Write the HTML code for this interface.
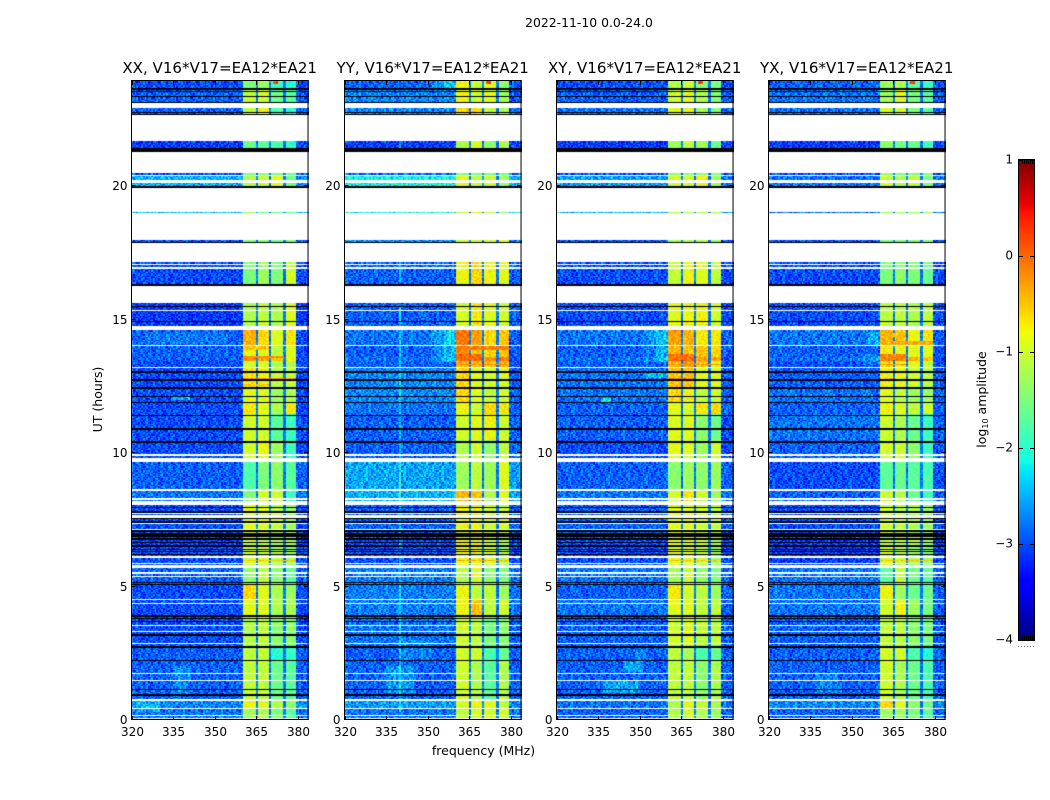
<!DOCTYPE html>
<html lang="en">
<head>
<meta charset="utf-8">
<title>2022-11-10 0.0-24.0</title>
<style>
html,body{margin:0;padding:0;background:#fff;}
#fig{position:relative;width:1050px;height:800px;overflow:hidden;background:#fff;}
canvas{position:absolute;display:block;}
svg{position:absolute;left:0;top:0;}
text{font-family:"DejaVu Sans","Liberation Sans",sans-serif;fill:#000;}
</style>
</head>
<body>
<div id="fig">
  <canvas id="c0"></canvas>
  <canvas id="c1"></canvas>
  <canvas id="c2"></canvas>
  <canvas id="c3"></canvas>
  <canvas id="cbar"></canvas>
  <svg id="overlay" width="1050" height="800">
    <text x="589" y="27" text-anchor="middle" font-size="12.4">2022-11-10 0.0-24.0</text>
    <text x="219.7" y="73" text-anchor="middle" font-size="15.05">XX, V16*V17=EA12*EA21</text>
    <text x="432.7" y="73" text-anchor="middle" font-size="15.05">YY, V16*V17=EA12*EA21</text>
    <text x="644.7" y="73" text-anchor="middle" font-size="15.05">XY, V16*V17=EA12*EA21</text>
    <text x="856.7" y="73" text-anchor="middle" font-size="15.05">YX, V16*V17=EA12*EA21</text>
    <text x="483.5" y="755" text-anchor="middle" font-size="12.5">frequency (MHz)</text>
    <text transform="translate(102,399.5) rotate(-90)" text-anchor="middle" font-size="12.5">UT (hours)</text>
    <text transform="translate(986,399.5) rotate(-90)" text-anchor="middle" font-size="12.5">log<tspan font-size="8" dy="2">10</tspan><tspan dy="-2"> amplitude</tspan></text>
  </svg>
</div>
<script>
/* ---------- axis settings ---------- */
const xTicks = [320, 335, 350, 365, 380];
const yTicks = [0, 5, 10, 15, 20];
const colorTicks = [1, 0, -1, -2, -3, -4];
const colorTickLabels = ["1", "0", "\u22121", "\u22122", "\u22123", "\u22124"];
const panelNames = ["xx", "yy", "xy", "yx"];
const panelLefts = [131.5, 344.5, 556.5, 768.5];

/* ---------- time sections (hours) and frequency columns (MHz) ---------- */
const sectionEdges = [0,.43,.77,2.23,2.80,3.92,4.52,5.05,5.80,6.55,7.00,8.05,8.65,9.70,10.49,11.43,11.91,12.44,13.19,13.45,13.60,14.05,14.62,15.63,17.88,18.5,19.5,20.43,20.55,21.71,23.13,23.69,24];
const columnEdges = [320, 360.5, 365.3, 370.4, 375.5, 379.7, 384];
const subbandGaps = [365.1, 370.2, 375.3];

/* log10 amplitude per section: [below 360.5, sub-band 1..4, above 380] */
const levelsXX = [
[-2.9,-1.3,-1.2,-1.5,-1.7,-2.9],[-2.8,-0.8,-0.9,-1.2,-1.4,-2.7],[-3.0,-1.1,-1.1,-1.6,-1.7,-3.0],[-3.0,-1.1,-1.1,-2.0,-1.9,-3.0],
[-3.1,-1.2,-1.1,-1.4,-1.4,-3.1],[-3.1,-0.9,-0.9,-1.2,-1.2,-3.1],[-3.1,-0.6,-0.9,-1.2,-1.3,-3.1],[-3.0,-1.4,-1.1,-1.4,-1.7,-3.0],
[-3.1,-1.0,-1.0,-1.2,-1.3,-3.1],[-3.2,-1.1,-1.1,-1.2,-1.2,-3.2],[-3.1,-0.9,-0.9,-1.1,-1.3,-3.1],[-2.9,-1.5,-1.0,-1.0,-1.9,-2.9],
[-3.0,-1.8,-1.5,-1.4,-1.7,-3.0],[-3.1,-1.0,-0.8,-1.3,-1.9,-3.1],[-3.1,-1.0,-1.0,-1.7,-1.9,-3.1],[-3.1,-0.7,-0.9,-1.2,-0.7,-3.1],
[-3.1,-0.9,-0.9,-1.3,-1.2,-3.1],[-3.1,-0.7,-0.8,-1.1,-1.1,-3.1],[-3.1,-1.0,-1.0,-1.2,-1.2,-3.1],[-3.0,-0.2,-0.3,-0.5,-0.8,-3.1],
[-3.0,-0.8,-0.9,-1.1,-0.9,-3.1],[-3.0,-0.4,-0.6,-0.9,-0.7,-3.1],[-3.2,-1.2,-1.1,-1.2,-0.9,-3.2],[-3.1,-1.5,-1.3,-1.5,-1.0,-3.1],
[-3.1,-1.5,-1.5,-1.6,-1.5,-3.1],[-2.5,-1.2,-1.7,-1.6,-1.7,-2.5],[-2.6,-1.2,-1.1,-0.9,-1.6,-2.8],[-3.1,-1.5,-1.5,-1.5,-1.5,-3.1],
[-3.2,-1.6,-1.7,-1.8,-2.0,-3.1],[-3.0,-1.1,-0.8,-1.8,-2.0,-3.0],[-3.0,-1.1,-1.0,-1.6,-1.7,-3.0],[-3.1,-1.5,-1.3,-1.9,-2.0,-3.1]];
const levelsYY = [
[-2.9,-1.1,-1.0,-1.0,-1.0,-2.9],[-2.7,-1.0,-0.8,-0.9,-1.1,-2.8],[-3.0,-1.0,-1.2,-1.7,-1.2,-3.0],[-3.0,-1.0,-1.0,-1.8,-1.6,-3.0],
[-2.9,-1.0,-1.1,-1.5,-1.4,-3.0],[-2.85,-0.8,-0.5,-1.1,-1.0,-2.9],[-2.85,-0.8,-1.1,-1.1,-1.3,-2.9],[-2.85,-1.2,-0.9,-1.4,-1.5,-2.9],
[-3.1,-0.8,-0.8,-1.0,-1.2,-3.1],[-3.1,-0.8,-0.8,-1.0,-1.2,-3.1],[-3.0,-0.8,-0.8,-1.0,-1.0,-3.0],[-2.6,-0.4,-0.5,-1.2,-0.9,-2.7],
[-2.65,-1.3,-1.1,-1.3,-0.9,-2.7],[-3.0,-1.2,-1.0,-1.4,-1.1,-2.9],[-3.0,-1.0,-0.9,-0.8,-1.0,-3.0],[-2.9,-0.8,-1.0,-0.6,-0.7,-3.0],
[-2.8,-0.6,-0.9,-1.1,-1.0,-3.0],[-2.8,-0.6,-0.9,-1.0,-0.9,-3.0],[-3.0,-0.4,-0.5,-0.5,-0.4,-3.1],[-2.9,0,0,-0.2,-0.1,-3.1],
[-3.0,-0.2,-0.5,-0.6,-0.5,-3.0],[-2.9,-0.1,-0.3,-0.6,-0.5,-3.0],[-3.0,-1.0,-0.7,-0.9,-1.0,-3.0],[-3.0,-0.8,-0.6,-0.8,-0.9,-3.0],
[-2.8,-1.0,-1.0,-1.0,-1.0,-2.9],[-2.2,-1.1,-0.8,-1.1,-1.4,-2.3],[-2.2,-0.9,-1.1,-1.0,-1.3,-2.6],[-3.0,-1.5,-1.5,-1.5,-1.5,-3.0],
[-3.2,-1.2,-0.9,-1.4,-1.2,-3.1],[-2.8,-0.6,-0.6,-1.1,-1.3,-2.9],[-2.8,-0.8,-1.0,-0.9,-1.3,-3.0],[-3.0,-0.8,-1.1,-0.9,-1.4,-3.0]];
const levelsXY = [
[-3.0,-1.2,-1.0,-1.2,-1.3,-3.0],[-2.9,-1.2,-0.9,-1.1,-1.2,-2.9],[-3.0,-1.1,-1.1,-1.4,-1.2,-3.0],[-3.0,-1.1,-1.2,-1.8,-1.6,-3.0],
[-3.0,-1.0,-0.9,-1.1,-1.1,-3.0],[-2.9,-0.9,-0.9,-1.1,-1.1,-3.0],[-3.0,-0.7,-1.0,-1.1,-1.3,-3.0],[-2.9,-1.3,-1.0,-1.4,-1.5,-3.0],
[-3.1,-0.9,-0.9,-1.1,-1.3,-3.1],[-3.1,-0.9,-0.9,-1.0,-1.2,-3.1],[-3.0,-0.9,-0.9,-1.0,-1.1,-3.0],[-2.9,-1.0,-0.7,-1.0,-1.3,-2.9],
[-3.0,-1.4,-1.3,-1.4,-1.3,-3.0],[-3.1,-0.9,-0.9,-1.3,-1.0,-3.1],[-3.0,-0.9,-0.9,-1.4,-1.6,-3.1],[-3.0,-0.9,-1.0,-0.7,-0.6,-3.0],
[-2.9,-0.6,-0.8,-1.1,-1.0,-3.0],[-2.9,-0.5,-0.5,-0.9,-0.9,-3.0],[-3.0,-0.4,-0.3,-0.5,-0.8,-3.1],[-2.9,0,0,-0.3,-0.3,-3.1],
[-3.0,-0.4,-0.5,-0.5,-0.6,-3.0],[-2.9,-0.2,-0.4,-0.7,-0.7,-3.0],[-3.1,-0.9,-0.8,-0.8,-1.0,-3.1],[-3.1,-1.1,-0.8,-0.9,-1.1,-3.1],
[-3.1,-1.3,-1.2,-1.2,-1.3,-3.1],[-2.6,-1.2,-1.2,-1.2,-1.2,-2.6],[-2.7,-1.0,-1.0,-0.8,-1.3,-2.9],[-3.1,-1.4,-1.4,-1.4,-1.4,-3.1],
[-3.2,-1.3,-1.1,-1.3,-1.6,-3.1],[-2.9,-0.9,-0.9,-1.3,-1.5,-3.0],[-3.0,-1.0,-0.9,-1.2,-1.5,-3.0],[-3.1,-1.2,-1.0,-1.4,-1.5,-3.1]];
const levelsYX = [
[-3.0,-1.3,-1.3,-1.5,-1.7,-3.0],[-2.8,-0.6,-0.9,-1.4,-1.6,-2.8],[-3.0,-1.0,-1.2,-1.6,-1.8,-3.0],[-3.0,-1.0,-1.0,-1.8,-2.0,-3.0],
[-3.0,-1.1,-1.1,-1.4,-1.5,-3.0],[-2.9,-1.0,-0.8,-1.3,-1.5,-3.0],[-2.9,-0.8,-1.3,-1.6,-1.6,-3.0],[-2.9,-1.7,-1.1,-1.6,-1.7,-3.0],
[-3.2,-1.0,-1.1,-1.3,-1.4,-3.1],[-3.2,-1.1,-1.1,-1.2,-1.3,-3.2],[-3.1,-1.0,-1.1,-1.2,-1.3,-3.1],[-3.0,-1.0,-1.1,-1.6,-1.9,-3.0],
[-3.1,-1.7,-1.6,-1.7,-1.8,-3.1],[-3.0,-1.0,-1.0,-1.4,-1.9,-3.0],[-2.9,-1.0,-1.2,-1.6,-1.9,-3.0],[-3.0,-0.8,-0.9,-1.1,-1.0,-3.0],
[-2.9,-0.9,-1.1,-1.3,-1.3,-3.0],[-3.0,-0.8,-0.8,-1.0,-1.1,-3.0],[-3.1,-0.6,-0.8,-0.9,-1.1,-3.1],[-2.9,-0.2,-0.2,-0.4,-0.5,-3.1],
[-3.0,-0.7,-0.8,-0.9,-0.9,-3.1],[-2.9,-0.4,-0.5,-0.8,-0.7,-3.0],[-3.1,-1.1,-1.1,-1.2,-1.1,-3.1],[-3.1,-1.5,-1.4,-1.5,-1.6,-3.1],
[-3.1,-1.5,-1.5,-1.5,-1.5,-3.1],[-3.0,-1.3,-1.3,-1.3,-1.3,-3.0],[-2.9,-1.0,-1.2,-1.1,-1.5,-2.9],[-3.1,-1.5,-1.5,-1.5,-1.5,-3.1],
[-3.2,-1.4,-1.5,-1.6,-1.9,-3.1],[-2.9,-1.0,-1.0,-1.5,-1.7,-3.0],[-2.9,-1.3,-0.9,-1.5,-1.7,-3.0],[-3.0,-1.3,-1.2,-1.7,-1.9,-3.0]];
const panelLevels = [levelsXX, levelsYY, levelsXY, levelsYX];

/* strong horizontal features: [t0, t1, f0, f1, log amplitude] */
const hotXX = [[12.72,12.8,360.5,379.7,-0.2],[12.5,12.62,360.5,370,-0.5],[23.87,23.94,371,373,0.2],[5.95,6.02,360.5,379.7,-0.5],[14.2,14.4,360.5,365,-0.4],[13.86,14.0,360.5,370,-0.5],[13.55,13.65,360.5,375,-0.2]];
const hotYY = [[14.28,14.54,360.5,365,-0.05],[14.28,14.54,365.5,370,-0.3],[13.86,14.02,360.5,379.7,-0.1],[13.49,13.68,360.5,370,0.0],[13.30,13.36,360.5,379.7,-0.2],[13.0,13.04,360.5,379.7,0.1],[0.45,0.47,320,384,-1.3],[23.87,23.94,371,373,0.2],[5.95,6.02,360.5,379.7,-0.4]];
const hotXY = [[14.05,14.54,360.5,365,-0.3],[13.49,13.68,360.5,370,-0.05],[13.30,13.36,360.5,379.7,-0.25],[13.0,13.06,360.5,370,-0.2],[12.72,12.8,360.5,370,-0.1],[23.87,23.94,371,373,0.2],[5.95,6.02,360.5,379.7,-0.5]];
const hotYX = [[14.0,14.2,360.5,379.7,-0.35],[14.35,14.5,360.5,370,-0.45],[13.49,13.68,360.5,370,-0.15],[13.3,13.36,360.5,370,-0.3],[13.0,13.06,360.5,375,-0.25],[12.72,12.78,360.5,365,-0.4],[23.87,23.94,371,373,0.2],[5.95,6.02,360.5,379.7,-0.5]];
const panelHot = [hotXX, hotYY, hotXY, hotYX];

/* diffuse brightenings: [t0, t1, f0, f1, log offset] */
const patchesXX = [[0.9,2.0,335,341,0.25],[0.3,0.7,322,330,0.25],[14.1,14.55,325,355,0.12],[12.0,12.1,335,341,0.5]];
const patchesYY = [[1.0,2.0,335,345,0.3],[13.4,14.6,356,360.5,0.45],[13.4,14.6,351,356,0.2],[23.69,24,356,360.5,0.55],[23.69,24,351,356,0.25],[0.3,15.6,339.7,340.3,0.5],[16.4,17.1,339.7,340.3,0.5],[21.45,21.7,339.7,340.3,0.5],[2.2,3.0,340,352,0.15]];
const patchesXY = [[1.0,1.5,337,350,0.35],[1.8,2.2,344,351,0.35],[2.2,2.6,348,352,0.25],[11.9,12.05,336,340,0.6],[13.4,14.6,356,360.5,0.4],[13.4,14.6,351,356,0.15],[12.8,13.0,352,360.5,0.35]];
const patchesYX = [[1.0,1.7,337,345,0.2],[14.0,14.55,356,360.5,0.25],[13.3,13.7,354,360.5,0.2]];
const panelPatches = [patchesXX, patchesYY, patchesXY, patchesYX];

/* flagged time ranges, shared by all panels: [t0, t1] in hours */
const whiteGaps = [[22.95,23.13],[21.71,22.68],[20.51,21.29],[20.39,20.45],[20.13,20.23],[19.04,19.94],[17.99,19.01],[17.17,17.88],[17.05,17.09],[16.90,16.98],[15.63,16.27],[15.33,15.37],[14.62,14.77],[14.02,14.05],[13.19,13.23],[9.88,9.97],[9.67,9.82],[8.57,8.65],[8.23,8.30],[8.05,8.20],[7.71,7.75],[7.64,7.69],[7.56,7.62],[7.36,7.39],[7.11,7.15],[6.12,6.15],[6.06,6.10],[5.83,5.87],[5.70,5.78],[5.46,5.52],[5.37,5.40],[4.51,4.54],[4.33,4.37],[3.50,3.53],[3.28,3.32],[2.85,2.88],[1.71,1.73],[1.47,1.50],[.71,.78],[.42,.45],[.13,.17],[.02,.05]];
const blackLines = [[23.62,23.68],[23.53,23.58],[23.36,23.40],[23.13,23.17],[22.76,22.80],[22.68,22.72],[21.29,21.44],[19.94,20.02],[17.88,17.92],[16.30,16.34],[16.27,16.29],[15.46,15.52],[14.92,14.97],[13.02,13.08],[12.72,12.76],[12.40,12.48],[12.10,12.14],[11.88,11.91],[11.37,11.43],[10.88,10.94],[10.39,10.45],[7.94,7.97],[7.76,7.82],[7.52,7.56],[7.39,7.43],[7.04,7.11],[6.86,7.00],[6.74,6.81],[6.61,6.67],[6.48,6.55],[6.38,6.41],[6.30,6.32],[6.17,6.21],[5.12,5.16],[5.03,5.08],[3.86,3.92],[3.76,3.81],[3.68,3.71],[3.15,3.21],[2.68,2.74],[2.20,2.25],[1.13,1.16],[.90,.94]];

/* hand-typed channel-to-channel grain, digits map to small log offsets */
const speckleTile = [
"46237516482957136048253","73518246930471658249361","25684139572648301957462","81462705938146259730584",
"34975162840397516248913","60392847514862073951846","57148362905137468250739","29603574816249357106482",
"43817950264781539642075","76250183497365082914563","18594627305846179230658","52736048191574623085947",
"37069452816302947518264","64821739505186247369051","90475316288463915027346","21658493706295143786509",
"58340761926817354096273"];

/* ---------- scales ---------- */
const PX_PER_MHZ = 2.767, PX_PER_HOUR = 26.65, Y_ZERO = 719.5, X_MAX = 383.8, Y_MAX = 24;
const TICK_PX_PER_HOUR = 26.7, TICK_Y_ZERO = 719;
const CB_TOP = 160, CB_BOTTOM = 640, CB_LEFT = 1019, CB_RIGHT = 1034;
const CHANNEL_MHZ = 0.6, ROW_HOURS = 0.05;
function xScale(f, panel){ return panelLefts[panel] + (f - 320) * PX_PER_MHZ; }
function yScale(t){ return Y_ZERO - t * PX_PER_HOUR; }
function yTickScale(t){ return TICK_Y_ZERO - t * TICK_PX_PER_HOUR; }
function cbScale(v){ return CB_BOTTOM - (v + 4) / 5 * (CB_BOTTOM - CB_TOP); }

/* ---------- jet colormap ---------- */
function seg(p, pts){
  for (let i = 1; i < pts.length; i++) {
    if (p <= pts[i][0]) {
      const a = pts[i-1], b = pts[i];
      return a[1] + (b[1] - a[1]) * (p - a[0]) / (b[0] - a[0]);
    }
  }
  return pts[pts.length-1][1];
}
function jet(v){
  const p = Math.max(0, Math.min(1, (v + 4) / 5));
  const r = seg(p, [[0,0],[.35,0],[.66,1],[.89,1],[1,.5]]);
  const g = seg(p, [[0,0],[.125,0],[.375,1],[.64,1],[.91,0],[1,0]]);
  const b = seg(p, [[0,.5],[.11,1],[.34,1],[.65,0],[1,0]]);
  return "rgb(" + Math.round(r*255) + "," + Math.round(g*255) + "," + Math.round(b*255) + ")";
}

/* ---------- heatmap cells ---------- */
function findIndex(edges, value){
  for (let i = 0; i < edges.length - 1; i++) { if (value < edges[i+1]) return i; }
  return edges.length - 2;
}
function cellValue(panel, f, t, ch, row){
  const sec = findIndex(sectionEdges, t);
  const col = findIndex(columnEdges, f);
  let v = panelLevels[panel][sec][col];
  const inBand = f >= 360.5 && f < 379.7;
  if (inBand) {
    for (const g of subbandGaps) { if (Math.abs(f - g) < 0.4) v = -2.8; }
  } else {
    v += 0.08;
  }
  for (const p of panelPatches[panel]) {
    if (t >= p[0] && t < p[1] && f >= p[2] && f < p[3]) v += p[4];
  }
  for (const h of panelHot[panel]) {
    if (t >= h[0] && t < h[1] && f >= h[2] && f < h[3]) v = h[4];
  }
  const line = speckleTile[(row + panel * 3) % speckleTile.length];
  const idx = (ch + panel * 5 + 7 * Math.floor(row / speckleTile.length)) % line.length;
  const d = (line.charCodeAt(idx) - 48 - 4.5);
  return v + d * (inBand ? 0.05 : 0.1);
}
function drawPanel(panel){
  const c = document.getElementById("c" + panel);
  const left = Math.floor(panelLefts[panel]);
  c.width = 178; c.height = 640;
  c.style.left = left + "px"; c.style.top = "80px";
  const g = c.getContext("2d");
  g.fillStyle = "#fff"; g.fillRect(0, 0, 178, 640);
  const rows = Math.round(Y_MAX / ROW_HOURS);
  const chans = Math.ceil((X_MAX - 320) / CHANNEL_MHZ);
  for (let r = 0; r < rows; r++) {
    const t = r * ROW_HOURS;
    const y1 = Math.round(yScale(t)) - 80, y0 = Math.round(yScale(t + ROW_HOURS)) - 80;
    for (let ch = 0; ch < chans; ch++) {
      const f = 320 + ch * CHANNEL_MHZ;
      const x0 = Math.round(xScale(f, panel)) - left, x1 = Math.round(xScale(f + CHANNEL_MHZ, panel)) - left;
      g.fillStyle = jet(cellValue(panel, f + CHANNEL_MHZ / 2, t + ROW_HOURS / 2, ch, r));
      g.fillRect(x0, y0, x1 - x0, y1 - y0);
    }
  }
  function bar(range, color){
    const y0 = Math.round(yScale(range[1])) - 80;
    const y1 = Math.round(yScale(range[0])) - 80;
    g.fillStyle = color;
    g.fillRect(0, y0, 178, Math.max(1, y1 - y0));
  }
  whiteGaps.forEach(function(w){ bar(w, "#fff"); });
  blackLines.forEach(function(b){ bar(b, "#000"); });
}
for (let p = 0; p < 4; p++) drawPanel(p);

/* ---------- colorbar gradient ---------- */
(function(){
  const c = document.getElementById("cbar");
  c.width = CB_RIGHT - CB_LEFT; c.height = CB_BOTTOM - CB_TOP;
  c.style.left = CB_LEFT + "px"; c.style.top = CB_TOP + "px";
  const g = c.getContext("2d");
  for (let y = 0; y < c.height; y++) {
    g.fillStyle = jet(1 - (y + 0.5) / c.height * 5);
    g.fillRect(0, y, c.width, 1);
  }
})();

/* ---------- axes ---------- */
const NS = "http://www.w3.org/2000/svg";
const svg = document.getElementById("overlay");
function tickLine(x1, y1, x2, y2){
  const l = document.createElementNS(NS, "line");
  
  
  l.setAttribute("x1", x1); l.setAttribute("y1", y1);
  l.setAttribute("x2", x2); l.setAttribute("y2", y2);
  l.setAttribute("stroke", "#000"); l.setAttribute("stroke-width", "1");
  svg.appendChild(l);
}
function tickLabel(x, y, anchor, str){
  const t = document.createElementNS(NS, "text");
  
  
  t.setAttribute("x", x); t.setAttribute("y", y);
  t.setAttribute("text-anchor", anchor);
  t.setAttribute("font-size", "12");
  t.textContent = str;
  svg.appendChild(t);
}
for (let p = 0; p < 4; p++) {
  const fr = document.createElementNS(NS, "rect");
  
  
  fr.setAttribute("x", Math.floor(panelLefts[p]) + 0.5);
  fr.setAttribute("y", 80.5);
  fr.setAttribute("width", (X_MAX - 320) * PX_PER_MHZ);
  fr.setAttribute("height", 639);
  fr.setAttribute("fill", "none");
  fr.setAttribute("stroke", "#000");
  fr.setAttribute("stroke-width", "1");
  svg.appendChild(fr);
  const right = xScale(X_MAX, p);
  xTicks.forEach(function(f){
    const x = Math.round(xScale(f, p)) + 0.5;
    tickLine(x, 720, x, 716);
    tickLine(x, 81, x, 85);
    tickLabel(x, 736, "middle", String(f));
  });
  yTicks.forEach(function(t){
    const y = Math.round(yTickScale(t)) + 0.5;
    tickLine(panelLefts[p], y, panelLefts[p] + 4, y);
    tickLine(right, y, right - 4, y);
    tickLabel(panelLefts[p] - 4, y + 4.5, "end", String(t));
  });
}
/* colorbar frame, ticks and labels */
const cbFrame = document.createElementNS(NS, "rect");


cbFrame.setAttribute("x", CB_LEFT - 0.5);
cbFrame.setAttribute("y", CB_TOP - 0.5);
cbFrame.setAttribute("width", CB_RIGHT - CB_LEFT + 1);
cbFrame.setAttribute("height", CB_BOTTOM - CB_TOP + 1);
cbFrame.setAttribute("fill", "none");
cbFrame.setAttribute("stroke", "#000");
svg.appendChild(cbFrame);
colorTicks.forEach(function(v, i){
  const y = Math.round(cbScale(v)) + 0.5;
  tickLine(CB_LEFT, y, CB_LEFT + 4, y);
  tickLine(CB_RIGHT, y, CB_RIGHT - 4, y);
  tickLabel(CB_LEFT - 6, y + 3, "end", colorTickLabels[i]);
});
const cbEndTicks = [1022, 1024, 1026, 1028, 1030, 1032];
cbEndTicks.forEach(function(x){
  tickLine(x + 0.5, CB_TOP, x + 0.5, CB_TOP + 4);
  tickLine(x + 0.5, CB_BOTTOM, x + 0.5, CB_BOTTOM - 4);
});
const cbDots = document.createElementNS(NS, "line");


cbDots.setAttribute("x1", 1018); cbDots.setAttribute("y1", 646.5);
cbDots.setAttribute("x2", 1035); cbDots.setAttribute("y2", 646.5);
cbDots.setAttribute("stroke", "#777");
cbDots.setAttribute("stroke-dasharray", "1 2");
svg.appendChild(cbDots);
</script>
</body>
</html>
